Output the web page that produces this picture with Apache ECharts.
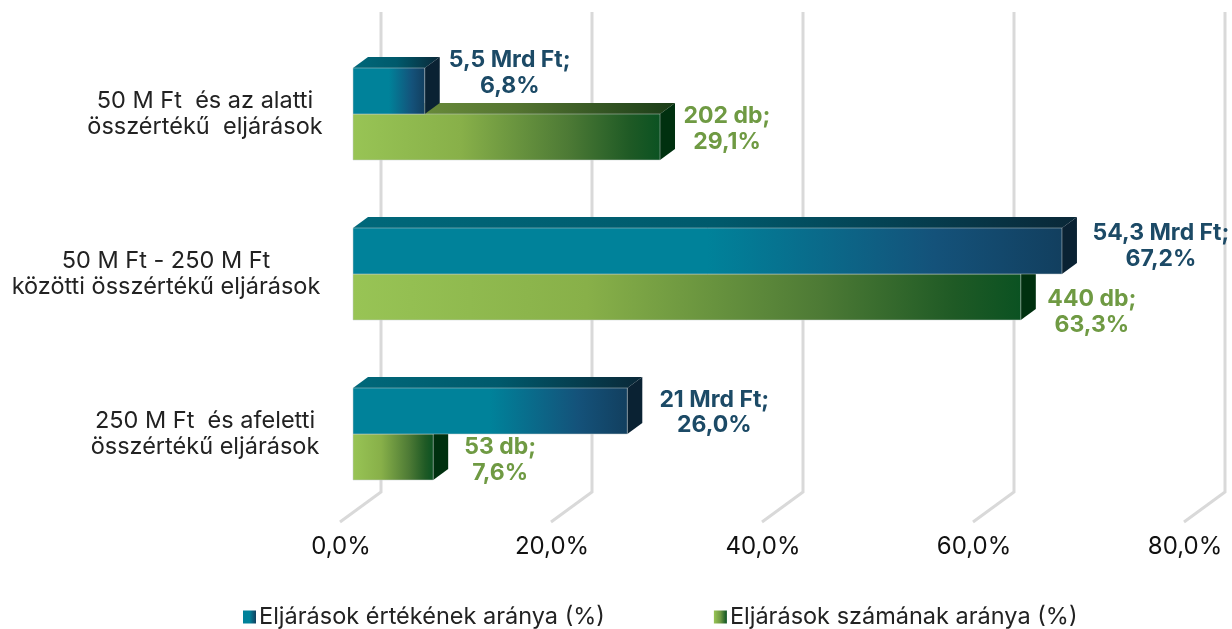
<!DOCTYPE html>
<html><head><meta charset="utf-8">
<style>html,body{margin:0;padding:0;background:#fff}#c{width:1232px;height:629px}</style>
<script src="https://cdn.jsdelivr.net/npm/echarts@6/dist/echarts.min.js"></script></head>
<body><div id="c"></div>
<script>
const categories = ['50 M Ft  és az alatti\nösszértékű  eljárások', '50 M Ft - 250 M Ft\nközötti összértékű eljárások', '250 M Ft  és afeletti\nösszértékű eljárások'];
const valueShare = [6.8, 67.2, 26.0];
const countShare = [29.1, 63.3, 7.6];
const valueLabels = ['5,5 Mrd Ft;\n6,8%', '54,3 Mrd Ft;\n67,2%', '21 Mrd Ft;\n26,0%'];
const countLabels = ['202 db;\n29,1%', '440 db;\n63,3%', '53 db;\n7,6%'];
const xTicks = [0, 20, 40, 60, 80];
const seriesNames = ['Eljárások értékének aránya (%)', 'Eljárások számának aránya (%)'];

const FONT = 'Inter, "Noto Sans", sans-serif';
const DEPTH_X = 15, DEPTH_Y = 11, BAR_H = 46;
const LG = echarts.graphic.LinearGradient;
const grad = stops => new LG(0, 0, 1, 0, stops.map((c, i) => ({offset: c[0], color: c[1]})));
const blueFront = () => grad([[0,'#00829a'],[0.5,'#00829a'],[0.82,'#14527a'],[1,'#123f5f']]);
const blueTop = () => grad([[0,'#00687a'],[0.5,'#005a6c'],[1,'#0a2838']]);
const greenFront = () => grad([[0,'#98c455'],[0.35,'#88b049'],[0.7,'#4d7a35'],[0.9,'#1f5a25'],[1,'#0b5222']]);
const greenTop = () => grad([[0,'#769a40'],[0.5,'#557531'],[1,'#1a3c18']]);
const LABEL_SHIFT = {
  blue: [[85, -18], [99, -5], [87, 1.5]],
  green: [[67, -8], [71, 15], [67, 3]]
};

function bar3d(isBlue, labels, shifts) {
  return function (params, api) {
    const i = api.value(1);
    const origin = api.coord([0, i]);
    const end = api.coord([api.value(0), i]);
    const x0 = origin[0], x1 = end[0];
    const y0 = isBlue ? origin[1] - BAR_H : origin[1];
    const y1 = y0 + BAR_H;
    const s = shifts[i];
    return {
      type: 'group',
      children: [
        {type: 'polygon', shape: {points: [[x0,y0],[x0+DEPTH_X,y0-DEPTH_Y],[x1+DEPTH_X,y0-DEPTH_Y],[x1,y0]]},
          style: {fill: isBlue ? blueTop() : greenTop()}},
        {type: 'polygon', shape: {points: [[x1,y0],[x1+DEPTH_X,y0-DEPTH_Y],[x1+DEPTH_X,y1-DEPTH_Y],[x1,y1]]},
          style: {fill: isBlue ? '#0a2233' : '#00300f'}},
        {type: 'rect', shape: {x: x0, y: y0, width: x1 - x0, height: BAR_H},
          style: {fill: isBlue ? blueFront() : greenFront(), stroke: '#c4cccc', lineWidth: 0.5}},
        {type: 'text', x: x1 + s[0], y: (y0 + y1) / 2 + s[1],
          style: {text: labels[i], align: 'center', verticalAlign: 'middle', font: '700 23px ' + FONT,
            fill: isBlue ? '#1c4a66' : '#6f9a43', lineHeight: 25.5}}
      ]
    };
  };
}

const chart = echarts.init(document.getElementById('c'), null, {renderer: 'canvas'});
chart.setOption({
  animation: false,
  backgroundColor: '#fff',
  grid: {left: 353, top: 34, width: 844, height: 480, containLabel: false, outerBoundsMode: 'none'},
  xAxis: {
    type: 'value', min: 0, max: 80, interval: 20,
    splitLine: {show: false}, axisLine: {show: false}, axisTick: {show: false},
    axisLabel: {
      color: '#111', fontFamily: FONT, fontSize: 24, margin: 21, padding: [0, 24, 0, 0],
      hideOverlap: false, showMinLabel: true, showMaxLabel: true,
      formatter: v => v.toFixed(1).replace('.', ',') + '%'
    }
  },
  yAxis: {
    type: 'category', inverse: true,
    data: [
      {value: categories[0]},
      {value: categories[1], textStyle: {align: 'center', padding: [13, 78, 0, 0]}},
      {value: categories[2]}
    ],
    axisLine: {show: false}, axisTick: {show: false}, splitLine: {show: false},
    axisLabel: {color: '#222', fontFamily: FONT, fontSize: 23.5, lineHeight: 26, align: 'center', margin: 148, padding: [13, 0, 0, 0]}
  },
  legend: {
    left: 243, top: 605, padding: 0, itemWidth: 13, itemHeight: 13, itemGap: 109, icon: 'rect',
    textStyle: {color: '#222', fontFamily: FONT, fontSize: 23.5, padding: [0, 0, 0, -2]},
    data: seriesNames
  },
  series: [
    {
      type: 'custom', name: 'walls', silent: true, z: 1, legendHoverLink: false,
      data: xTicks.map(v => [v]),
      encode: {x: 0},
      renderItem: function (params, api) {
        const p = api.coord([api.value(0), 2]);
        const x = p[0];
        return {type: 'polyline', shape: {points: [[x + 28, 12], [x + 28, 492], [x - 13, 522]]},
          style: {fill: null, stroke: '#d9d9d9', lineWidth: 3}};
      }
    },
    {
      type: 'custom', name: seriesNames[0], z: 4,
      itemStyle: {color: grad([[0,'#00829a'],[0.5,'#00829a'],[1,'#123f5f']])},
      data: valueShare.map((v, i) => [v, i]), encode: {x: 0, y: 1},
      renderItem: bar3d(true, valueLabels, LABEL_SHIFT.blue)
    },
    {
      type: 'custom', name: seriesNames[1], z: 3,
      itemStyle: {color: grad([[0,'#98c455'],[0.5,'#6f9a43'],[1,'#0b5222']])},
      data: countShare.map((v, i) => [v, i]), encode: {x: 0, y: 1},
      renderItem: bar3d(false, countLabels, LABEL_SHIFT.green)
    }
  ]
});
</script></body></html>
